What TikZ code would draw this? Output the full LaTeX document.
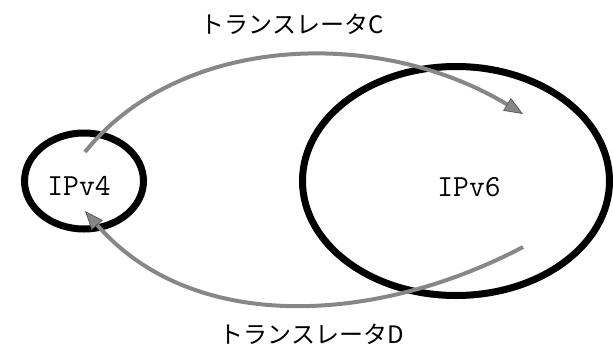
\documentclass[tikz,border=0pt]{standalone}
\usepackage{fontspec}
\newfontfamily\jpfont{Noto Sans CJK JP}
\usepackage{tikz}
\usetikzlibrary{shapes.geometric, arrows.meta, positioning, calc}
\definecolor{ringblack}{RGB}{0,0,0}
\definecolor{arrgray}{RGB}{135,135,135}
\definecolor{arrdark}{RGB}{90,90,90}
\tikzset{
  netzone/.style={ellipse, draw=ringblack, line width=5.25pt, inner sep=0pt},
  iptext/.style={font=\ttfamily\fontsize{23}{26}\selectfont, inner sep=0pt},
  transtext/.style={font=\jpfont\fontsize{18}{21}\selectfont, inner sep=0pt},
  transarrow/.style={-{Triangle[length=14pt, width=11pt, fill=arrgray, color=arrdark, line width=0.6pt]},
    line width=3pt, color=arrgray}
}
\begin{document}
\begin{tikzpicture}[x=0.75pt, y=-0.75pt]
  \useasboundingbox (0,0) rectangle (613,347);

  % Networks
  \node[netzone, minimum width=89.25pt, minimum height=72pt] (v4) at (84,181) {};
  \node[netzone, minimum width=230.25pt, minimum height=171.75pt] (v6) at (456,181) {};
  \node[iptext] (v4t) at (79,186) {IPv4};
  \node[iptext] (v6t) at (469,187) {IPv6};

  % Translator labels
  \node[transtext] (tC) at (292,24) {トランスレータC};
  \node[transtext] (tD) at (312,334) {トランスレータD};

  % Arrow end points
  \coordinate (cFrom) at (85,152);
  \coordinate (cTo) at (523,114);
  \coordinate (dFrom) at (523,247);
  \coordinate (dTo) at (85,211);

  % Translation arrows
  \draw[transarrow] (cFrom) .. controls (179,35) and (377,26) .. (cTo);
  \draw[transarrow] (dFrom) .. controls (377,324) and (193,335) .. (dTo);
\end{tikzpicture}
\end{document}
